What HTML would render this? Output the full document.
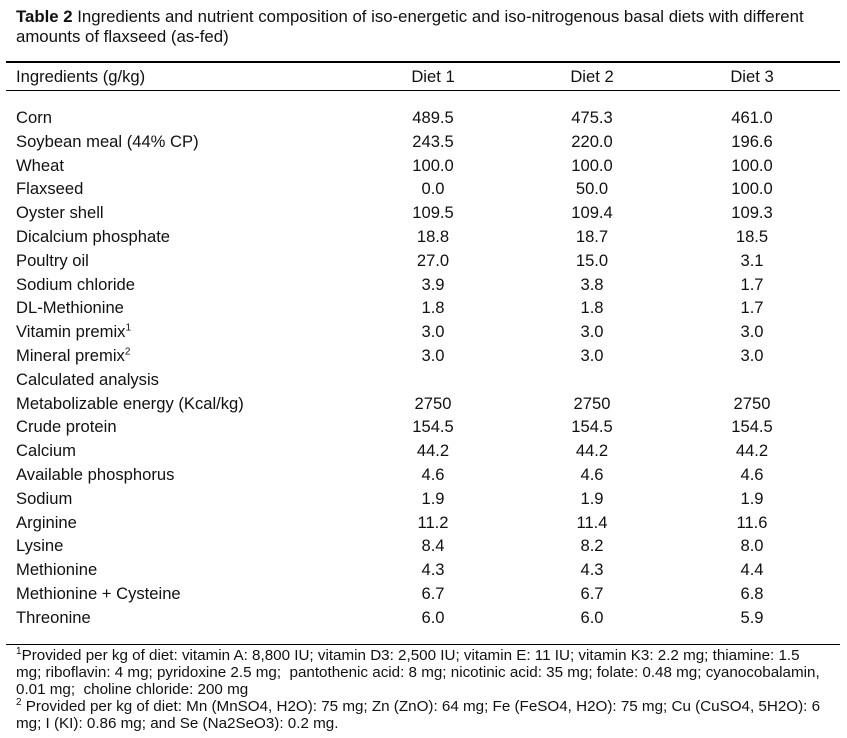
<!DOCTYPE html>
<html><head><meta charset="utf-8"><style>
body{margin:0;width:847px;height:738px;background:#fff;font-family:"Liberation Sans",Arial,sans-serif;color:#111;position:relative;overflow:hidden}
.t{position:absolute;white-space:nowrap;font-size:16.6px;line-height:18px}
.c{transform:translateX(-50%)}
.rule{position:absolute;left:6px;width:834px;height:1px;background:#000}
.fn{position:absolute;left:16px;width:830px;font-size:15.2px;line-height:17px;white-space:nowrap}
sup{font-size:10px;line-height:0}
</style></head><body>
<div class="t" style="left:16px;top:7px;font-size:16.8px;line-height:20px"><b>Table 2</b> Ingredients and nutrient composition of iso-energetic and iso-nitrogenous basal diets with different<br>amounts of flaxseed (as-fed)</div>
<div class="rule" style="top:61px;height:2px"></div>
<div class="t" style="left:16px;top:68px">Ingredients (g/kg)</div>
<div class="t c" style="left:433px;top:68px">Diet 1</div>
<div class="t c" style="left:592px;top:68px">Diet 2</div>
<div class="t c" style="left:752px;top:68px">Diet 3</div>
<div class="rule" style="top:90px"></div>
<div id="rows"></div>
<div class="rule" style="top:644px"></div>
<div class="fn" style="top:647px"><sup>1</sup>Provided per kg of diet: vitamin A: 8,800 IU; vitamin D3: 2,500 IU; vitamin E: 11 IU; vitamin K3: 2.2 mg; thiamine: 1.5<br>mg; riboflavin: 4 mg; pyridoxine 2.5 mg;&nbsp; pantothenic acid: 8 mg; nicotinic acid: 35 mg; folate: 0.48 mg; cyanocobalamin,<br>0.01 mg;&nbsp; choline chloride: 200 mg</div>
<div class="fn" style="top:698px"><sup>2</sup> Provided per kg of diet: Mn (MnSO4, H2O): 75 mg; Zn (ZnO): 64 mg; Fe (FeSO4, H2O): 75 mg; Cu (CuSO4, 5H2O): 6<br>mg; I (KI): 0.86 mg; and Se (Na2SeO3): 0.2 mg.</div>
<script>
const labels=["Corn","Soybean meal (44% CP)","Wheat","Flaxseed","Oyster shell","Dicalcium phosphate","Poultry oil","Sodium chloride","DL-Methionine","Vitamin premix<sup>1</sup>","Mineral premix<sup>2</sup>","Calculated analysis","Metabolizable energy (Kcal/kg)","Crude protein","Calcium","Available phosphorus","Sodium","Arginine","Lysine","Methionine","Methionine + Cysteine","Threonine"];
const diet1=["489.5","243.5","100.0","0.0","109.5","18.8","27.0","3.9","1.8","3.0","3.0","","2750","154.5","44.2","4.6","1.9","11.2","8.4","4.3","6.7","6.0"];
const diet2=["475.3","220.0","100.0","50.0","109.4","18.7","15.0","3.8","1.8","3.0","3.0","","2750","154.5","44.2","4.6","1.9","11.4","8.2","4.3","6.7","6.0"];
const diet3=["461.0","196.6","100.0","100.0","109.3","18.5","3.1","1.7","1.7","3.0","3.0","","2750","154.5","44.2","4.6","1.9","11.6","8.0","4.4","6.8","5.9"];
const root=document.getElementById('rows');
labels.forEach((l,i)=>{
  const top=109+i*23.8;
  const cells=[[l,16,false],[diet1[i],433,true],[diet2[i],592,true],[diet3[i],752,true]];
  cells.forEach((c,j)=>{
    const d=document.createElement('div');
    d.className='t'+(c[2]?' c':'');
    d.style.left=c[1]+'px';d.style.top=top+'px';
    d.innerHTML=c[0];
    
    
    root.appendChild(d);
  });
});
</script>
</body></html>
